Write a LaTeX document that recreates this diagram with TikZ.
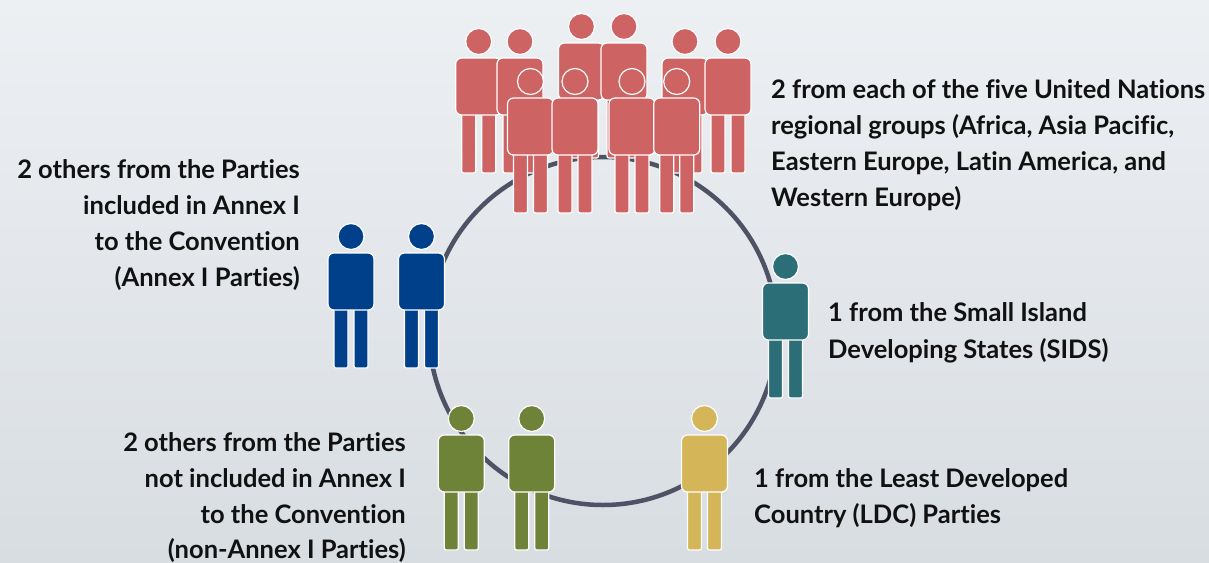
\documentclass[tikz,border=0pt]{standalone}
\usepackage{fontspec}
\setmainfont{Lato}[Ligatures={NoCommon}]
\definecolor{bgtop}{HTML}{EDF0F3}
\definecolor{bgbot}{HTML}{D8DDE2}
\definecolor{ringc}{HTML}{4D5364}
\definecolor{redp}{HTML}{CD6363}
\definecolor{bluep}{HTML}{00408A}
\definecolor{tealp}{HTML}{2B6E78}
\definecolor{greenp}{HTML}{6E8337}
\definecolor{yellowp}{HTML}{D4B659}
\definecolor{textc}{HTML}{111111}
\newcommand\onefig[3]{%
  \fill[#3,draw=white,line width=1.2pt,rounded corners=2pt] (#1-17,#2+45) rectangle (#1-3,#2+115);
  \fill[#3,draw=white,line width=1.2pt,rounded corners=2pt] (#1+3,#2+45) rectangle (#1+17,#2+115);
  \fill[#3,draw=white,line width=1.2pt,rounded corners=6pt] (#1-23,#2) rectangle (#1+23,#2+57);
  \fill[#3,draw=white,line width=1.2pt] (#1,#2-16.5) circle (13pt);
}
\tikzset{
  lbl/.style={font=\bfseries\fontsize{25.5}{30}\selectfont, text=textc, inner sep=0pt},
  ringst/.style={circle, draw=ringc, line width=4.5pt, minimum size=348pt, inner sep=0pt}
}
\begin{document}
\begin{tikzpicture}[x=1pt,y=-1pt]
\useasboundingbox (0,0) rectangle (1209,562);
\shade[top color=bgtop, bottom color=bgbot] (0,0) rectangle (1209,562);
\node[ringst] (ring) at (603,331) {};
% red group, back row
\onefig{478.7}{58}{redp}
\onefig{520}{58}{redp}
\onefig{685}{58}{redp}
\onefig{728}{58}{redp}
\onefig{581.5}{43}{redp}
\onefig{624}{43}{redp}
% red group, front row
\onefig{530.5}{98}{redp}
\onefig{575}{98}{redp}
\onefig{632}{98}{redp}
\onefig{676.7}{98}{redp}
% blue
\onefig{351}{253}{bluep}
\onefig{421.5}{253}{bluep}
% teal
\onefig{785.5}{283}{tealp}
% green
\onefig{461.3}{435}{greenp}
\onefig{531.7}{435}{greenp}
% yellow
\onefig{704.5}{435}{yellowp}
% texts
\node[lbl,anchor=base west] (ra) at (771,98.3) {2 from each of the five United Nations};
\node[lbl,anchor=base west] (rb) at (771,134) {regional groups (Africa, Asia Pacific,};
\node[lbl,anchor=base west] (rc) at (771,170) {Eastern Europe, Latin America, and};
\node[lbl,anchor=base west] (rd) at (771,206.5) {Western Europe)};
\node[lbl,anchor=base east] (la) at (300,178.3) {2 others from the Parties};
\node[lbl,anchor=base east] (lb) at (300,214) {included in Annex I};
\node[lbl,anchor=base east] (lc) at (300,250.5) {to the Convention};
\node[lbl,anchor=base east] (ld) at (300,286.5) {(Annex I Parties)};
\node[lbl,anchor=base west] (sa) at (828,321.7) {1 from the Small Island};
\node[lbl,anchor=base west] (sb) at (828,358) {Developing States (SIDS)};
\node[lbl,anchor=base west] (da) at (754,487.3) {1 from the Least Developed};
\node[lbl,anchor=base west] (db) at (754,523.3) {Country (LDC) Parties};
\node[lbl,anchor=base east] (na) at (406,451.7) {2 others from the Parties};
\node[lbl,anchor=base east] (nb) at (406,487) {not included in Annex I};
\node[lbl,anchor=base east] (nc) at (406,523) {to the Convention};
\node[lbl,anchor=base east] (nd) at (406,558.3) {(non-Annex I Parties)};
\end{tikzpicture}
\end{document}
